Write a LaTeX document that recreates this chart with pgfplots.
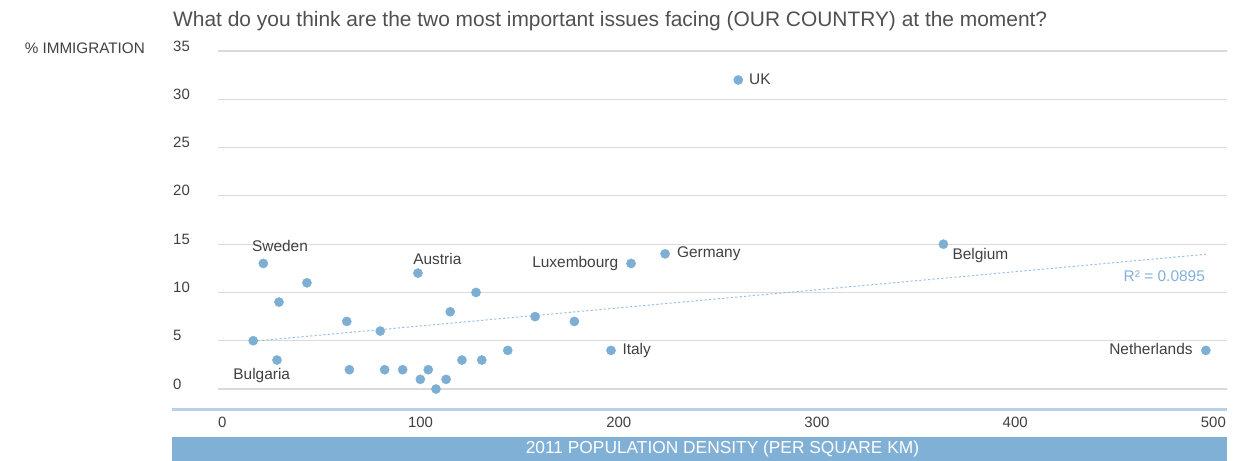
\documentclass[border=0pt]{standalone}
\usepackage{fontspec}
\setmainfont{Liberation Sans}
\usepackage{pgfplots}
\pgfplotsset{compat=1.18}
\definecolor{dotblue}{RGB}{125,175,213}
\definecolor{txt}{RGB}{64,64,64}
\definecolor{ttl}{RGB}{80,80,80}
\definecolor{gridc}{RGB}{217,217,222}
\definecolor{axblue}{RGB}{184,208,232}
\definecolor{barblue}{RGB}{128,176,214}
\definecolor{trend}{RGB}{155,192,228}
\definecolor{rlab}{RGB}{130,176,216}
\begin{document}
\begin{tikzpicture}
\path[use as bounding box] (0,0) rectangle (1243bp,-461bp);
\begin{axis}[
  at={(218bp,-409.3bp)}, anchor=south west,
  scale only axis, width=1009bp, height=358.3bp,
  xmin=-2.17, xmax=506.9, ymin=-2.1, ymax=35,
  xtick={0,100,...,500}, ytick={0,5,...,35},
  major tick length=0pt,
  axis line style={draw=none},
  ymajorgrids, grid style={gridc, line width=1.1bp},
  tick label style={font=\fontsize{15}{18}\selectfont, text=txt},
  /pgf/number format/assume math mode=true,
  yticklabel style={anchor=base west, inner sep=0pt, xshift=-45bp},
  xticklabel style={anchor=base, inner sep=0pt, yshift=-17.7bp},
  clip=false,
]
\addplot[trend, line width=1bp, dash pattern=on 2.2bp off 2.2bp] coordinates {(15.6,4.95) (496.2,13.95)};
\addplot[only marks, color=dotblue, mark=*, mark size=4.6bp, mark options={solid, draw=dotblue, fill=dotblue, line width=0.4bp}] coordinates {
(20.7,13) (42.7,11) (28.6,9) (15.6,5) (27.6,3) (62.8,7) (79.7,6) (64.1,2)
(81.9,2) (91.0,2) (99.9,1) (103.9,2) (107.8,0) (112.9,1) (120.9,3) (130.9,3)
(98.7,12) (115.0,8) (128.0,10) (144.0,4) (157.8,7.5) (177.6,7) (196.1,4)
(206.2,13) (223.4,14) (363.8,15) (496.2,4) (260.3,32)
};
\begin{scope}[every node/.style={font=\fontsize{15.5}{18}\selectfont, text=txt, inner sep=0pt}]
\node[anchor=center] at (axis cs:29.1,14.8) {Sweden};
\node[anchor=center] at (axis cs:19.9,1.35) {Bulgaria};
\node[anchor=center] at (axis cs:108.5,13.46) {Austria};
\node[anchor=mid east] at (axis cs:199.8,12.85) {Luxembourg};
\node[anchor=mid west] at (axis cs:229.3,13.85) {Germany};
\node[anchor=mid west] at (axis cs:201.8,3.85) {Italy};
\node[anchor=mid west] at (axis cs:368.3,13.7) {Belgium};
\node[anchor=mid east] at (axis cs:489.6,3.85) {Netherlands};
\node[anchor=mid west] at (axis cs:265.7,31.8) {UK};
\node[anchor=mid east, text=rlab] at (axis cs:495.8,11.4) {R² = 0.0895};
\end{scope}
\end{axis}
\draw[axblue, line width=2.4bp] (172bp,-409.3bp) -- (1227bp,-409.3bp);
\fill[barblue] (172bp,-436.7bp) rectangle (1227bp,-461bp);
\node[anchor=center, inner sep=0pt, text=white, font=\fontsize{17.4}{20}\selectfont] at (722.5bp,-448.8bp) {2011 POPULATION DENSITY (PER SQUARE KM)};
\node[anchor=base west, inner sep=0pt, text=ttl, font=\fontsize{21}{24}\selectfont] at (173bp,-26.7bp) {What do you think are the two most important issues facing (OUR COUNTRY) at the moment?};
\node[anchor=base east, inner sep=0pt, text=txt, font=\fontsize{15.3}{18}\selectfont] at (145bp,-53bp) {\% IMMIGRATION};
\end{tikzpicture}
\end{document}
